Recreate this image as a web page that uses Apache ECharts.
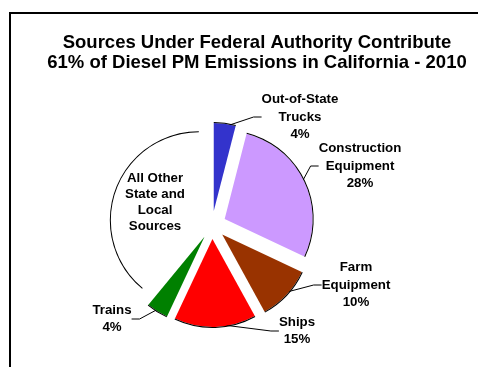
<!DOCTYPE html>
<html>
<head>
<meta charset="utf-8">
<script src="https://cdn.jsdelivr.net/npm/echarts@6/dist/echarts.min.js"></script>
<style>
html, body { margin: 0; padding: 0; background: #fff; }
#chart { width: 478px; height: 367px; }
</style>
</head>
<body>
<div id="chart"></div>
<script>
// 数据：顺时针，从12点方向开始
var categories = ['Out-of-State Trucks', 'Construction Equipment', 'Farm Equipment', 'Ships', 'Trains', 'All Other State and Local Sources'];
var shares = [4, 28, 10, 15, 4, 39];
var labelText = ['Out-of-State\nTrucks', 'Construction\nEquipment', 'Farm\nEquipment', 'Ships', 'Trains', 'All Other\nState and\nLocal\nSources'];
var showPercent = [true, true, true, true, true, false];

// 颜色和标签位置
var colors = ['#3333cc', '#cc99ff', '#993300', '#ff0000', '#008000', '#ffffff'];
var labelPos = [[300, 117], [360, 166], [356, 285], [297, 331], [112, 319], [155, 202]];

var font = 'Liberation Sans, Arial, sans-serif';
var pieCenter = [212, 225];
var R = 88;
var offset = 14;

function echartPie (id) {
    var myChart = echarts.init(document.getElementById(id));

    var fillData = categories.map(function (name, i) {
        return { name: name, value: shares[i], selected: true, itemStyle: { color: colors[i] } };
    });
    // 外圈黑线（只画弧线）
    var ringData = categories.map(function (name, i) {
        return { name: name, value: shares[i], selected: true };
    });
    // 标签（透明扇形，半径略大，近似分离后的外沿）
    var labelData = categories.map(function (name, i) {
        var item = { name: name, value: shares[i] };
        if (!showPercent[i]) {
            item.label = { lineHeight: 16 };
            item.labelLine = { show: false };
        }
        return item;
    });

    var option = {
        animation: false,
        title: {
            text: 'Sources Under Federal Authority Contribute\n61% of Diesel PM Emissions in California - 2010',
            left: 252,
            top: 28,
            textAlign: 'center',
            textStyle: {
                color: '#000',
                fontFamily: font,
                fontWeight: 'bold',
                fontSize: 18.5,
                lineHeight: 20
            }
        },
        graphic: [
            {
                type: 'rect',
                shape: { x: 10, y: 13, width: 600, height: 600 },
                style: { fill: 'none', stroke: '#000', lineWidth: 2 },
                silent: true
            }
        ],
        series: [
            {
                name: 'fill',
                type: 'pie',
                center: pieCenter,
                radius: R,
                startAngle: 90,
                clockwise: true,
                selectedMode: 'multiple',
                selectedOffset: offset,
                silent: true,
                emphasis: { disabled: true },
                itemStyle: { borderWidth: 0 },
                label: { show: false },
                labelLine: { show: false },
                data: fillData
            },
            {
                name: 'edge',
                type: 'pie',
                center: pieCenter,
                radius: [R, R + 1],
                startAngle: 90,
                clockwise: true,
                selectedMode: 'multiple',
                selectedOffset: offset,
                silent: true,
                emphasis: { disabled: true },
                itemStyle: { color: '#000', borderWidth: 0 },
                label: { show: false },
                labelLine: { show: false },
                data: ringData
            },
            {
                name: 'labels',
                type: 'pie',
                center: pieCenter,
                radius: R + 11,
                startAngle: 90,
                clockwise: true,
                silent: true,
                avoidLabelOverlap: false,
                emphasis: { disabled: true },
                itemStyle: { color: 'rgba(0,0,0,0)', borderWidth: 0 },
                label: {
                    show: true,
                    position: 'outside',
                    color: '#000',
                    fontFamily: font,
                    fontWeight: 'bold',
                    fontSize: 13.3,
                    lineHeight: 17.5,
                    align: 'center',
                    formatter: function (p) {
                        var i = p.dataIndex;
                        return labelText[i] + (showPercent[i] ? '\n' + p.value + '%' : '');
                    }
                },
                labelLine: {
                    show: true,
                    length: 8,
                    length2: 8,
                    lineStyle: { color: '#000', width: 1 }
                },
                labelLayout: function (p) {
                    var pos = labelPos[p.dataIndex];
                    return { x: pos[0], y: pos[1], align: 'center', verticalAlign: 'middle' };
                },
                data: labelData
            }
        ]
    };
    myChart.setOption(option);
}

echartPie('chart');
</script>
</body>
</html>
